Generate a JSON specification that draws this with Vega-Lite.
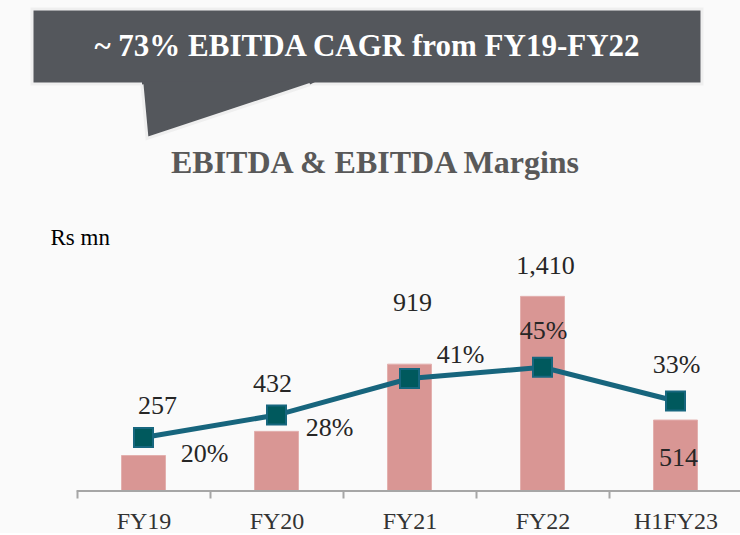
{
  "$schema": "https://vega.github.io/schema/vega-lite/v6.json",
  "background": "#fafafa",
  "padding": {"left": 30, "top": 7, "right": 0, "bottom": 0},
  "bounds": "flush",
  "spacing": 182,
  "config": {"view": {"stroke": null}, "font": "Liberation Serif"},
  "datasets": {
    "ebitda": [
      {"period": "FY19", "ebitda": 257, "margin": 0.20},
      {"period": "FY20", "ebitda": 432, "margin": 0.28},
      {"period": "FY21", "ebitda": 919, "margin": 0.41},
      {"period": "FY22", "ebitda": 1410, "margin": 0.45},
      {"period": "H1FY23", "ebitda": 514, "margin": 0.33}
    ]
  },
  "vconcat": [
    {
      "width": 670,
      "height": 75,
      "view": {"fill": "#54575c", "stroke": "#efefef", "strokeWidth": 3},
      "data": {"values": [{"headline": "~ 73% EBITDA CAGR from FY19-FY22"}]},
      "layer": [
        {
          "mark": {"type": "point", "shape": "M-225,35 L-225,38 L-220,92 L-57,38 L-51,35 Z", "size": 4, "filled": true, "fill": "#54575c", "strokeWidth": 0, "opacity": 1},
          "encoding": {}
        },
        {
          "mark": {"type": "point", "shape": "M-225,38 L-220,92 L-57,38", "size": 4, "filled": false, "stroke": "#efefef", "strokeWidth": 3, "opacity": 1},
          "encoding": {}
        },
        {
          "mark": {"type": "text", "font": "Liberation Serif", "fontWeight": "bold", "fontSize": 31, "color": "#ffffff", "baseline": "middle", "align": "center"},
          "encoding": {"text": {"field": "headline"}}
        }
      ]
    },
    {
      "width": 710,
      "height": 225,
      "data": {"name": "ebitda"},
      "title": {"text": "EBITDA & EBITDA Margins", "font": "Liberation Serif", "fontSize": 32, "fontWeight": "bold", "color": "#595959", "anchor": "middle", "dx": -12, "offset": 46},
      "encoding": {
        "x": {
          "field": "period", "type": "nominal", "sort": null,
          "scale": {"paddingInner": 0, "paddingOuter": 0.1692, "align": 1},
          "axis": {"title": null, "labelAngle": 0, "labelFont": "Liberation Serif", "labelFontSize": 24, "labelColor": "#333333", "labelPadding": 11, "domain": false, "ticks": true, "tickBand": "extent", "tickColor": "#a6a6a6", "tickWidth": 2, "tickSize": 7, "grid": false}
        }
      },
      "layer": [
        {
          "encoding": {
            "y": {"field": "ebitda", "type": "quantitative", "scale": {"domain": [0, 1630]},
              "axis": {"title": "Rs mn", "orient": "left", "labels": false, "ticks": false, "domain": false, "grid": false, "titleAngle": 0, "titleAlign": "left", "titleBaseline": "middle", "titleX": 18, "titleY": -29, "titleFont": "Liberation Serif", "titleFontSize": 23, "titleFontWeight": "normal", "titleColor": "#000000"}}
          },
          "layer": [
            {"mark": {"type": "bar", "width": 44, "color": "#d99694", "stroke": "#e3b0ae", "strokeWidth": 1}},
            {"mark": {"type": "tick", "orient": "horizontal", "size": 134, "thickness": 2, "color": "#a6a6a6", "opacity": 1}, "encoding": {"y": {"datum": 0}}},
            {"transform": [{"filter": "datum.period == 'FY19'"}], "mark": {"type": "text", "fontSize": 26, "color": "#262626", "baseline": "middle", "dx": 14, "dy": -50}, "encoding": {"text": {"field": "ebitda", "format": ","}}},
            {"transform": [{"filter": "datum.period == 'FY20'"}], "mark": {"type": "text", "fontSize": 26, "color": "#262626", "baseline": "middle", "dx": -4, "dy": -47}, "encoding": {"text": {"field": "ebitda", "format": ","}}},
            {"transform": [{"filter": "datum.period == 'FY21'"}], "mark": {"type": "text", "fontSize": 26, "color": "#262626", "baseline": "middle", "dx": 3, "dy": -61}, "encoding": {"text": {"field": "ebitda", "format": ","}}},
            {"transform": [{"filter": "datum.period == 'FY22'"}], "mark": {"type": "text", "fontSize": 26, "color": "#262626", "baseline": "middle", "dx": 3, "dy": -30}, "encoding": {"text": {"field": "ebitda", "format": ","}}},
            {"transform": [{"filter": "datum.period == 'H1FY23'"}], "mark": {"type": "text", "fontSize": 26, "color": "#262626", "baseline": "middle", "dx": 3, "dy": 38}, "encoding": {"text": {"field": "ebitda", "format": ","}}}
          ]
        },
        {
          "encoding": {
            "y": {"field": "margin", "type": "quantitative", "scale": {"domain": [0.01, 0.81]}, "axis": null}
          },
          "layer": [
            {"mark": {"type": "line", "color": "#17657d", "strokeWidth": 5}},
            {"mark": {"type": "point", "shape": "square", "size": 361, "filled": true, "fill": "#00595d", "stroke": "#17677f", "strokeWidth": 2, "opacity": 1}},
            {"transform": [{"filter": "datum.period == 'FY19'"}], "mark": {"type": "text", "fontSize": 26, "color": "#262626", "baseline": "middle", "dx": 61, "dy": 16}, "encoding": {"text": {"field": "margin", "format": ".0%"}}},
            {"transform": [{"filter": "datum.period == 'FY20'"}], "mark": {"type": "text", "fontSize": 26, "color": "#262626", "baseline": "middle", "dx": 53, "dy": 13}, "encoding": {"text": {"field": "margin", "format": ".0%"}}},
            {"transform": [{"filter": "datum.period == 'FY21'"}], "mark": {"type": "text", "fontSize": 26, "color": "#262626", "baseline": "middle", "dx": 51, "dy": -24}, "encoding": {"text": {"field": "margin", "format": ".0%"}}},
            {"transform": [{"filter": "datum.period == 'FY22'"}], "mark": {"type": "text", "fontSize": 26, "color": "#262626", "baseline": "middle", "dx": 1, "dy": -36}, "encoding": {"text": {"field": "margin", "format": ".0%"}}},
            {"transform": [{"filter": "datum.period == 'H1FY23'"}], "mark": {"type": "text", "fontSize": 26, "color": "#262626", "baseline": "middle", "dx": 1, "dy": -36}, "encoding": {"text": {"field": "margin", "format": ".0%"}}}
          ]
        }
      ],
      "resolve": {"scale": {"y": "independent"}}
    }
  ]
}
